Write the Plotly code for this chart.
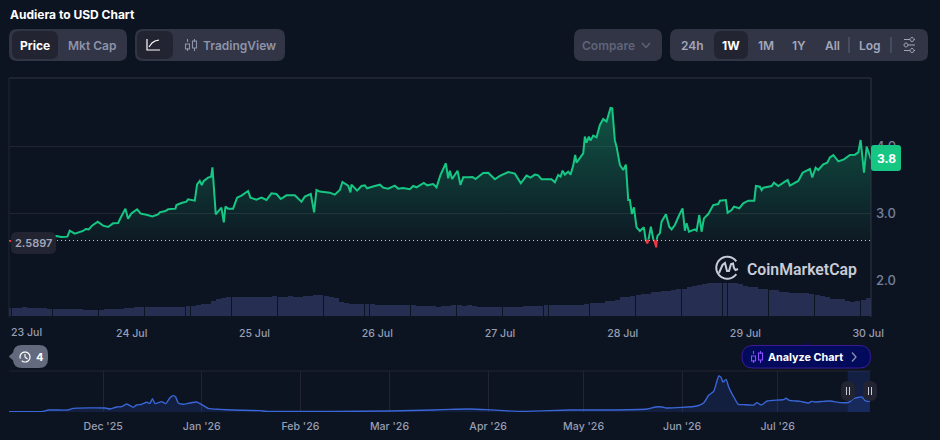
import math
import numpy as np
import pandas as pd
import plotly.graph_objects as go

W, H = 940, 440
BG = "#0d1421"
GREEN = "#16c784"
RED = "#ea3943"
GRID = "#222531"
BORDER = "#323546"
PANEL = "#323546"
ACTIVE = "#222531"
TICK = "#969eb4"

base_price = 2.5897
start_week = pd.Timestamp("2026-07-23")
start_all = pd.Timestamp("2025-11-01")

hours = [0, 2.1, 4.6, 9.26, 10.24, 11.42, 11.87, 12.85, 13.7, 14.48, 15.0, 15.59, 16.24, 17.35, 18.39, 19.37,
         20.35, 21.33, 21.78, 22.76, 23.28, 23.93, 25.04, 25.76, 26.87, 28.04, 29.15, 29.48, 30.58, 31.11,
         32.54, 32.74, 33.71, 34.69, 35.02, 36.32, 36.78, 37.3, 37.69, 38.08, 38.93, 39.52, 39.78, 40.43,
         41.54, 42.0, 42.32, 42.84, 43.82, 44.6, 45.45, 46.75, 47.21, 48.06, 48.38, 49.36, 50.34, 51.32,
         52.3, 53.14, 54.25, 55.88, 57.19, 57.84, 59.01, 59.66, 60.12, 60.77, 62.73, 63.7, 64.68, 65.2,
         66.31, 66.77, 66.96, 68.07, 68.92, 69.57, 70.03, 71.53, 72.51, 73.16, 74.14, 75.44, 76.09, 77.07,
         78.37, 79.03, 79.68, 81.11, 81.77, 82.94, 83.59, 84.37, 85.42, 85.87, 86.2, 86.65, 87.7, 88.28,
         88.81, 89.78, 90.63, 91.22, 92.72, 93.7, 95.0, 95.98, 97.61, 98.91, 100.08, 101.19, 101.98, 102.82,
         103.48, 104.13, 106.08, 106.74, 107.39, 107.85, 108.24, 108.69, 109.34, 109.8, 110.32, 110.71,
         110.97, 112.28, 112.6, 112.93, 113.39, 113.71, 114.23, 114.89, 115.54, 116.19, 116.84, 117.62,
         117.95, 118.47, 118.8, 119.45, 120.1, 120.62, 121.08, 121.4, 121.8, 122.19, 122.71, 123.36, 124.14,
         124.5, 124.8, 125.06, 125.51, 126.0, 126.17, 126.56, 126.65, 126.82, 127.27, 127.6, 128.45, 129.1, 129.56, 130.2,
         131.05, 131.7, 132.16, 132.49, 132.95, 134.12, 134.45, 134.97, 135.42, 135.88, 136.73, 137.7,
         138.68, 139.01, 140.18, 140.51, 141.29, 141.75, 142.79, 143.57, 144.55, 145.73, 146.05, 146.83,
         147.16, 147.49, 148.46, 149.12, 149.57, 150.42, 151.72, 152.25, 152.7, 154.33, 155.18, 156.61,
         157.07, 157.72, 158.24, 159.22, 160.0, 160.52, 161.18, 162.16, 163.26, 164.44, 165.41, 166.07,
         166.52, 167.18, 167.7, 168.35, 168.55]
price = [2.58, 2.60, 2.63, 2.657, 2.642, 2.647, 2.737, 2.692, 2.717, 2.732, 2.761, 2.756, 2.811, 2.871, 2.811, 2.791,
         2.846, 2.851, 2.921, 3.065, 2.916, 2.995, 3.055, 2.99, 2.975, 2.95, 2.98, 3.01, 3.03, 3.055,
         3.065, 3.12, 3.15, 3.169, 3.204, 3.184, 3.428, 3.478, 3.418, 3.478, 3.528, 3.543, 3.682, 2.98,
         3.08, 2.861, 3.095, 3.065, 3.065, 3.229, 3.259, 3.329, 3.229, 3.209, 3.199, 3.229, 3.194, 3.294,
         3.284, 3.209, 3.264, 3.264, 3.169, 3.244, 3.284, 3.01, 3.343, 3.32, 3.304, 3.274, 3.344, 3.463,
         3.408, 3.309, 3.423, 3.334, 3.403, 3.413, 3.369, 3.403, 3.423, 3.379, 3.364, 3.408, 3.364, 3.374,
         3.354, 3.403, 3.384, 3.448, 3.413, 3.433, 3.384, 3.568, 3.742, 3.518, 3.632, 3.508, 3.632, 3.418,
         3.533, 3.533, 3.538, 3.508, 3.598, 3.602, 3.503, 3.553, 3.612, 3.588, 3.443, 3.558, 3.528, 3.573,
         3.563, 3.503, 3.503, 3.458, 3.568, 3.543, 3.632, 3.573, 3.617, 3.573, 3.707, 3.866,
         3.752, 3.891, 4.14, 4.05, 4.14, 4.08, 4.155, 4.13, 4.314, 4.403, 4.364, 4.568,
         4.563, 4.08, 3.99, 3.717, 3.642, 3.722, 3.195, 3.195, 2.985, 3.085, 2.786, 2.731, 2.786,
         2.597, 2.547, 2.607, 2.796, 2.60, 2.587, 2.488, 2.60, 2.662, 2.696, 2.871, 2.98, 2.796, 2.756, 2.821,
         2.97, 3.07, 2.736, 2.846, 2.721, 2.756, 2.736, 2.97, 2.721, 2.92, 2.985, 3.119,
         3.134, 3.184, 3.194, 3.005, 3.045, 3.095, 3.07, 3.144, 3.184, 3.184, 3.403, 3.393,
         3.343, 3.378, 3.393, 3.403, 3.453, 3.403, 3.468, 3.492, 3.408, 3.478, 3.602, 3.657,
         3.532, 3.677, 3.642, 3.726, 3.751, 3.831, 3.866, 3.771, 3.801, 3.866, 3.871, 3.905,
         4.09, 3.602, 3.99, 3.831, 3.8]

volume = [24, 25, 25, 26, 25, 25, 24, 24, 22, 21, 21, 22, 21, 20, 20, 18, 17, 17, 17, 20, 21, 21, 22, 23,
          25, 26, 26, 26, 27, 26, 26, 27, 27, 26, 27, 30, 30, 32, 35, 37, 45, 50, 54, 56, 58, 58, 57, 58,
          57, 57, 58, 58, 59, 58, 58, 59, 58, 58, 59, 60, 62, 62, 60, 58, 53, 42, 38, 37, 36, 36, 36, 35,
          33, 32, 32, 32, 32, 32, 32, 32, 31, 29, 29, 29, 28, 29, 29, 32, 32, 31, 32, 29, 28, 28, 28, 28,
          28, 28, 28, 28, 28, 29, 29, 29, 29, 32, 32, 32, 32, 32, 32, 32, 33, 37, 38, 38, 39, 44, 45, 47,
          56, 58, 60, 64, 65, 67, 71, 73, 74, 75, 78, 80, 81, 88, 90, 93, 97, 98, 98, 98, 98, 99, 98, 95,
          90, 88, 86, 82, 80, 79, 77, 73, 71, 70, 70, 69, 68, 66, 62, 61, 58, 52, 50, 50, 45, 41, 44, 48, 54]
vol_hours = list(range(len(volume)))

nav_days = [0.4, 11.2, 12.8, 19, 20.6, 30.6, 32.2, 34.2, 35.8, 37.4, 39.5, 40.5, 42.1, 43.7, 44.7, 45.5, 46.3, 48.4,
            49.7, 51, 52.1, 52.8, 53.6, 55.2, 57.3, 59.4, 61, 63, 66.7, 71, 79.3, 81.4, 102, 120, 133.8, 139,
            145.3, 150.6, 155.9, 161, 176.8, 187, 201, 203.6, 205.7, 207, 216.7, 218.8, 220.3, 221.9, 223.5,
            224.2, 224.8, 225.8, 226.6, 228.2, 229.6, 231.3, 234.5, 235.5, 236.8, 238.7, 242.3, 243.9, 244.6,
            245.7, 249.1, 251.8, 252.6, 253.7, 256.5, 258.6, 261.7, 264.3, 265.9, 268.5, 269.4, 270.6, 271]
nav_price = [0.12, 0.23, 0.69, 0.69, 1.27, 1.38, 1.04, 1.73, 1.84, 2.76, 1.61, 2.42, 2.65, 3.34, 2.99, 4.6, 2.88, 3.57,
             2.88, 4.95, 5.64, 5.18, 3.11, 2.65, 3.11, 3.45, 2.53, 1.27, 0.92, 0.69, 0.46, 0.23, 0.23, 0.35, 0.69, 0.92,
             1.04, 0.81, 0.46, 0.23, 0.69, 0.69, 1.04, 1.73, 1.73, 1.38, 2.07, 3.22, 5.75, 7.13, 12.42,
             11.96, 10.35, 11.27, 8.63, 5.18, 2.65, 2.53, 2.42, 3.22, 2.42, 3.8, 4.14, 4.26, 4.72,
             4.03, 3.68, 3.11, 3.68, 3.45, 3.68, 3.8, 3.22, 3.34, 4.6, 5.18, 4.03, 3.68, 3.8]

week_ticks = ["2026-07-24", "2026-07-25", "2026-07-26", "2026-07-27", "2026-07-28", "2026-07-29", "2026-07-30"]
week_labels = ["24 Jul", "25 Jul", "26 Jul", "27 Jul", "28 Jul", "29 Jul", "30 Jul"]
all_ticks = ["2025-12-01", "2026-01-01", "2026-02-01", "2026-03-01", "2026-04-01", "2026-05-01", "2026-06-01", "2026-07-01"]
all_labels = ["Dec '25", "Jan '26", "Feb '26", "Mar '26", "Apr '26", "May '26", "Jun '26", "Jul '26"]
price_ticks = [2, 3, 4]
price_labels = ["2.0", "3.0", "4.0"]


def week_x(vals):
    return [(start_week + pd.Timedelta(hours=float(v))).isoformat() for v in vals]


def all_x(vals):
    return [(start_all + pd.Timedelta(days=float(v))).isoformat() for v in vals]


def fx(px):
    return px / W


def fy(py):
    return 1 - py / H


def rrect(x0, y0, x1, y1, r):
    return (f"M{fx(x0+r):.5f},{fy(y0):.5f} L{fx(x1-r):.5f},{fy(y0):.5f} Q{fx(x1):.5f},{fy(y0):.5f} {fx(x1):.5f},{fy(y0+r):.5f} "
            f"L{fx(x1):.5f},{fy(y1-r):.5f} Q{fx(x1):.5f},{fy(y1):.5f} {fx(x1-r):.5f},{fy(y1):.5f} "
            f"L{fx(x0+r):.5f},{fy(y1):.5f} Q{fx(x0):.5f},{fy(y1):.5f} {fx(x0):.5f},{fy(y1-r):.5f} "
            f"L{fx(x0):.5f},{fy(y0+r):.5f} Q{fx(x0):.5f},{fy(y0):.5f} {fx(x0+r):.5f},{fy(y0):.5f} Z")


shapes = []
annots = []


def box(x0, y0, x1, y1, r, fill, line=None, lw=1, layer="above"):
    shapes.append(dict(type="path", xref="paper", yref="paper", path=rrect(x0, y0, x1, y1, r), fillcolor=fill,
                       line=dict(color=line or fill, width=lw if line else 0), layer=layer))


def stroke(pts, color, lw=1.2, close=False, fill=None):
    p = " ".join(("M" if i == 0 else "L") + f"{fx(x):.5f},{fy(y):.5f}" for i, (x, y) in enumerate(pts))
    if close:
        p += " Z"
    shapes.append(dict(type="path", xref="paper", yref="paper", path=p, line=dict(color=color, width=lw),
                       fillcolor=fill or "rgba(0,0,0,0)", layer="above"))


def arc(cx, cy, r, a0, a1, n=36):
    return [(cx + r * math.cos(math.radians(a0 + (a1 - a0) * i / n)), cy + r * math.sin(math.radians(a0 + (a1 - a0) * i / n)))
            for i in range(n + 1)]


def text(x, y, s, color="#ffffff", size=12, weight=600, anchor="center", family="Inter"):
    annots.append(dict(xref="paper", yref="paper", x=fx(x), y=fy(y), text=s, showarrow=False, xanchor=anchor, yanchor="middle",
                       font=dict(family=family, size=size, color=color, weight=weight), borderpad=0))


def candles(cx, cy, color):
    for dx in (-3.5, 3.5):
        stroke([(cx + dx, cy - 6), (cx + dx, cy - 3)], color, 1.1)
        stroke([(cx + dx, cy + 3), (cx + dx, cy + 6)], color, 1.1)
    stroke([(cx - 5.5, cy - 1), (cx - 1.5, cy - 1), (cx - 1.5, cy + 4), (cx - 5.5, cy + 4)], color, 1.1, close=True)
    stroke([(cx + 1.5, cy - 4), (cx + 5.5, cy - 4), (cx + 5.5, cy + 3), (cx + 1.5, cy + 3)], color, 1.1, close=True)


# header
text(9, 14, "Audiera to USD Chart", size=12, weight=700, anchor="left")
box(9, 29, 127, 61, 8, PANEL)
box(12, 31, 58, 59, 7, ACTIVE)
text(35, 45, "Price", weight=700)
text(92, 45, "Mkt Cap", color="#8d93a8", weight=600)
box(135, 29, 285, 61, 8, PANEL)
box(137, 31, 173, 59, 7, ACTIVE)
stroke([(147, 39), (147, 50), (160, 50)], "#ffffff", 1.2)
stroke([(149, 47), (152, 43), (155, 41), (159, 40)], "#ffffff", 1.2)
candles(191, 45, "#8d93a8")
text(239, 45, "TradingView", color="#8d93a8")
box(574, 29, 662, 61, 8, PANEL)
text(608, 45, "Compare", color="#5f6479")
stroke([(642, 43), (646, 47.5), (650, 43)], "#5f6479", 1.3)
box(670, 29, 928, 61, 8, PANEL)
box(714, 31, 748, 59, 7, ACTIVE)
for cx, lab, col in [(692.3, "24h", "#a1a7bb"), (730.7, "1W", "#ffffff"), (766, "1M", "#a1a7bb"), (799, "1Y", "#a1a7bb"),
                     (832, "All", "#a1a7bb"), (870, "Log", "#a1a7bb")]:
    text(cx, 45, lab, color=col, weight=700 if lab == "1W" else 600)
for sx in (849, 891):
    stroke([(sx, 37), (sx, 53)], "#5f6479", 1)
for yy, kx in ((39.5, 912), (45, 906), (50.5, 912)):
    stroke([(904, yy), (kx - 2, yy)], "#a1a7bb", 1)
    stroke([(kx + 2, yy), (915, yy)], "#a1a7bb", 1)
    stroke(arc(kx, yy, 2, 0, 360, 12), "#a1a7bb", 1)

# frame
stroke([(9, 78), (871, 78)], BORDER, 1)
stroke([(871, 78), (871, 317)], BORDER, 1)
stroke([(9, 78), (9, 317)], GRID, 1)

# base label and price label
box(11, 232, 56, 254, 6, ACTIVE)
text(33.5, 243, "2.5897", color="#a1a7bb", size=11, weight=600)
box(871, 145, 901, 171, 3, GREEN)
text(886, 158, "3.8", weight=700)

# CoinMarketCap mark
LOGO = "#c8ccd8"
stroke(arc(727.3, 267.7, 11, 35, 325 + 0, 40), LOGO, 2)
stroke([(719, 273), (722.5, 265), (725, 263), (727, 271), (729, 271), (731, 264), (733, 263.5), (734, 268), (735.5, 270), (738, 269)], LOGO, 2)
text(801.5, 269, "CoinMarketCap", color=LOGO, size=15.8, weight=600, family="Roboto")

# badges under the axis
box(13, 345, 48, 368, 9, "#646a7d")
stroke([(9, 356.5), (14, 352), (14, 361)], "#646a7d", 0.5, close=True, fill="#646a7d")
stroke(arc(25, 357, 5, -200, 130, 24), "#ffffff", 1.2)
stroke([(25, 354), (25, 357), (27.5, 359)], "#ffffff", 1.1)
text(39, 357, "4", size=11, weight=700)
stroke([(803, 345.5), (806, 342.5), (809, 345.5)], "#020a5c", 0.5, close=True, fill="#020a5c")
box(742, 345.5, 870.5, 368, 11, "#020a5c", line="#3c1a96", lw=1)
candles(757, 357, "#8a4dff")
text(805.5, 357, "Analyze Chart", size=10.8, weight=700)
stroke([(852, 352.5), (856, 357), (852, 361.5)], "#8d93a8", 1.3)

# navigator selection and handles
shapes.append(dict(type="rect", xref="x2", yref="paper", x0="2026-07-23", x1="2026-07-30", y0=fy(412), y1=fy(371),
                   fillcolor="rgba(56,97,251,0.16)", line=dict(width=0), layer="above"))
for cx in (848, 870):
    box(cx - 7, 381, cx + 7, 401, 7, "#222531")
    stroke([(cx - 1.5, 387), (cx - 1.5, 395)], "#c8ccd8", 1)
    stroke([(cx + 1.5, 387), (cx + 1.5, 395)], "#c8ccd8", 1)

# first date label sits inside the plot edge
annots.append(dict(xref="x", yref="paper", x="2026-07-23", y=fy(332), text="23 Jul", showarrow=False, xanchor="left", yanchor="middle",
                   xshift=0, font=dict(family="Inter", size=10.6, color=TICK, weight=500)))

p = np.array(price)
low = p < base_price
near = low | np.r_[low[1:], False] | np.r_[False, low[:-1]]
fill_y = np.maximum(p, base_price).tolist()
red_y = [float(v) if n else None for v, n in zip(p, near)]
green_line = [None if l else float(v) for v, l in zip(p, low)]
x_week = week_x(hours)

fig = go.Figure()
fig.add_trace(go.Bar(x=week_x(vol_hours), y=volume, xaxis="x", yaxis="y2", marker=dict(color="#262e52", line=dict(width=0)),
                     width=3600000 * 0.97, showlegend=False, hoverinfo="skip"))
fig.add_trace(go.Scatter(x=x_week, y=red_y, mode="lines", xaxis="x", yaxis="y", showlegend=False, connectgaps=False,
                         line=dict(color=RED, width=2)))
fig.add_trace(go.Scatter(x=x_week, y=[base_price] * len(hours), mode="lines", xaxis="x", yaxis="y", showlegend=False, hoverinfo="skip",
                         line=dict(color="rgba(255,255,255,0.75)", width=1, dash="1px,3px")))
fig.add_trace(go.Scatter(x=x_week, y=fill_y, mode="lines", xaxis="x", yaxis="y", showlegend=False, hoverinfo="skip",
                         line=dict(width=0), fill="tonexty",
                         fillgradient=dict(type="vertical", start=base_price, stop=4.57,
                                           colorscale=[[0, "rgba(22,199,132,0.03)"], [1, "rgba(22,199,132,0.36)"]])))
fig.add_trace(go.Scatter(x=x_week, y=green_line, mode="lines", xaxis="x", yaxis="y", showlegend=False, connectgaps=False,
                         line=dict(color=GREEN, width=2)))
fig.add_trace(go.Scatter(x=all_x(nav_days), y=nav_price, mode="lines", xaxis="x2", yaxis="y3", showlegend=False,
                         line=dict(color="#3a66d8", width=1.4, shape="spline", smoothing=0.5), fill="tozeroy", fillcolor="rgba(56,97,251,0.14)"))

dom_x = [fx(9), fx(871)]
tick_font = dict(family="Inter", size=10.6, color=TICK, weight=500)
fig.update_layout(
    width=W, height=H, margin=dict(l=0, r=0, t=0, b=0, autoexpand=False), paper_bgcolor=BG, plot_bgcolor=BG, autosize=False, showlegend=False,
    bargap=0, shapes=shapes, annotations=annots,
    xaxis=dict(domain=dom_x, type="date", range=[week_x([0])[0], week_x([168.55])[0]], anchor="y", showgrid=False, zeroline=False, showline=False,
               automargin=False, tickmode="array", tickvals=week_ticks, ticktext=week_labels, tickfont=tick_font, ticks="", ticklabelstandoff=8),
    yaxis=dict(domain=[fy(317), fy(78)], range=[1.448, 5.015], anchor="x", side="right", showgrid=True, gridcolor=GRID, gridwidth=1,
               automargin=False, zeroline=False, showline=False, tickmode="array", tickvals=price_ticks, ticktext=price_labels,
               tickfont=dict(family="Inter", size=13, color="#75819e", weight=500), ticks="", ticklabelstandoff=4),
    yaxis2=dict(domain=[fy(316), fy(280)], range=[0, 108], anchor="x", visible=False, fixedrange=True),
    xaxis2=dict(domain=dom_x, type="date", range=["2025-11-01 10:00", "2026-07-30 08:00"], anchor="y3", showgrid=True, gridcolor=GRID, gridwidth=1,
                automargin=False, zeroline=False, showline=False, tickmode="array", tickvals=all_ticks, ticktext=all_labels, tickfont=tick_font, ticks="", ticklabelstandoff=6),
    yaxis3=dict(domain=[fy(412), fy(371)], range=[0, 14.15], anchor="x2", showgrid=False, zeroline=False, showticklabels=False, ticks=""),
)
stroke_top = dict(type="line", xref="paper", yref="paper", x0=fx(9), x1=fx(871), y0=fy(371), y1=fy(371), line=dict(color=GRID, width=1), layer="below")
fig.add_shape(**stroke_top)

fig.write_html("out.html", config=dict(displayModeBar=False), post_script="document.body.style.margin='0';document.body.style.background='#0d1421';document.body.style.overflow='hidden';")
